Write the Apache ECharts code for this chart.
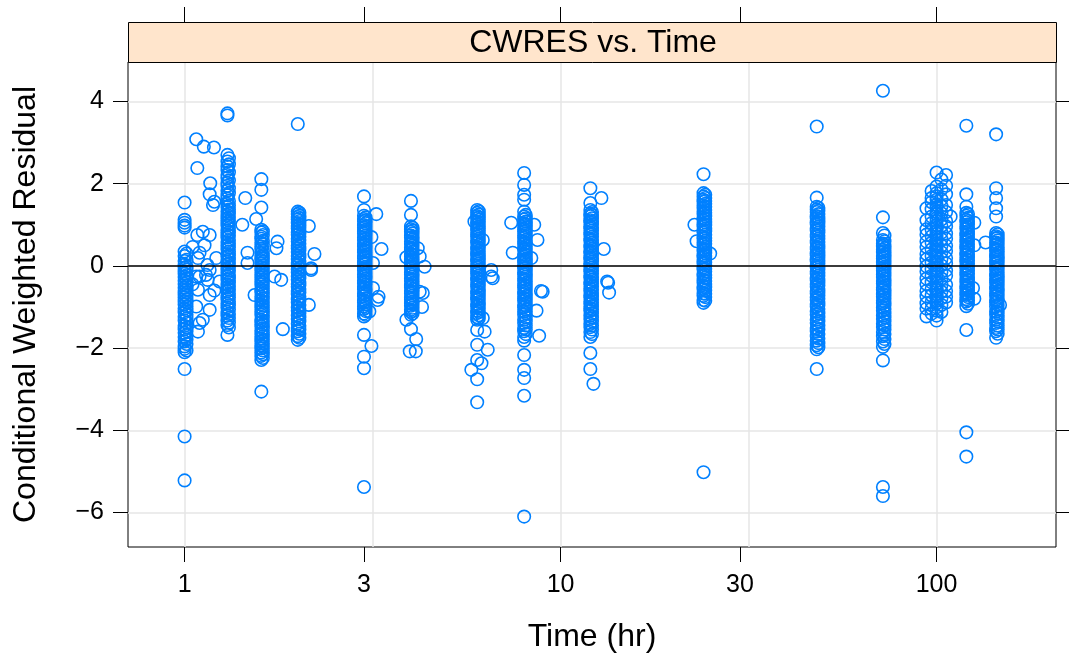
<!DOCTYPE html>
<html>
<head>
<meta charset="utf-8">
<script src="https://cdn.jsdelivr.net/npm/echarts@6/dist/echarts.min.js"></script>
<style>
html,body{margin:0;padding:0;background:#fff;}
#chart{width:1069px;height:661px;}
</style>
</head>
<body>
<div id="chart"></div>
<script>
// ---- axis / tick data ----
const xTickLabels = [1, 3, 10, 30, 100];
const xGridTimes = [1, 3.1623, 10, 31.623, 100];
const yTickValues = [-6, -4, -2, 0, 2, 4];
const xRange = [0.7071, 207.8];
const yRange = [-6.84, 4.96];

// ---- CWRES per nominal time (hr) ----
const cw_1h = [1.54, 1.12, 1.05, 0.98, 0.93, 0.35, 0.24, 0.12, 0.03, -0.04, -0.13, -0.19, -0.27, -0.36, -0.44, -0.53, -0.61, -0.69, -0.77, -0.86, -0.94, -1.04, -1.13, -1.24, -1.33, -1.46, -1.54, -1.63, -1.73, -1.84, -1.96, -2.02, -2.1, -2.51, -4.15, -5.22];
const cw_1h_b = [0.3, 0.15, -0.02, -0.09, -0.23, -0.31, -0.4, -0.49, -0.57, -0.65, -0.73, -0.82, -0.9, -0.99, -1.08, -1.19, -1.28, -1.39, -1.5, -1.59, -1.68, -1.79, -1.9, -2.06];
const cw_1_3h = [3.71, 3.66, 2.7, 2.54, 2.42, 2.33, 2.21, 2.14, 2.02, 1.95, 1.83, 1.72, 1.64, 1.51, 1.43, 1.32, 1.24, 1.15, 1.06, 0.98, 0.86, 0.77, 0.69, 0.58, 0.49, 0.41, 0.29, 0.22, 0.11, 0.03, -0.08, -0.17, -0.26, -0.34, -0.45, -0.53, -0.62, -0.73, -0.81, -0.92, -1.01, -1.12, -1.21, -1.33, -1.44, -1.68];
const cw_1_3h_b = [2.62, 2.47, 2.28, 2.08, 1.89, 1.77, 1.58, 1.47, 1.37, 1.28, 1.19, 1.1, 1.02, 0.92, 0.82, 0.73, 0.63, 0.54, 0.45, 0.35, 0.26, 0.16, 0.07, -0.03, -0.12, -0.22, -0.3, -0.4, -0.49, -0.58, -0.68, -0.77, -0.87, -0.96, -1.06, -1.17, -1.27, -1.38, -1.5];
const cw_1_6h = [2.11, 1.85, 1.42, 0.88, 0.81, 0.71, 0.66, 0.56, 0.47, 0.41, 0.31, 0.21, 0.14, 0.06, -0.03, -0.11, -0.21, -0.29, -0.38, -0.46, -0.56, -0.64, -0.75, -0.84, -0.93, -1.01, -1.11, -1.19, -1.31, -1.38, -1.47, -1.58, -1.66, -1.76, -1.84, -1.94, -2.01, -2.11, -2.19, -2.29, -3.06];
const cw_1_6h_b = [0.84, 0.75, 0.61, 0.52, 0.36, 0.26, 0.18, 0.1, 0.01, -0.07, -0.16, -0.25, -0.34, -0.42, -0.51, -0.6, -0.69, -0.79, -0.88, -0.97, -1.06, -1.15, -1.25, -1.34, -1.43, -1.52, -1.62, -1.71, -1.8, -1.89, -1.97, -2.06, -2.15, -2.24];
const cw_2h = [3.45, 1.32, 1.26, 1.19, 1.13, 1.04, 0.97, 0.91, 0.81, 0.76, 0.66, 0.59, 0.49, 0.42, 0.34, 0.24, 0.17, 0.07, 0.01, -0.09, -0.16, -0.26, -0.34, -0.44, -0.51, -0.61, -0.69, -0.81, -0.89, -1.01, -1.09, -1.21, -1.29, -1.41, -1.51, -1.59, -1.71, -1.8];
const cw_2h_b = [1.29, 1.22, 1.16, 1.09, 1.01, 0.94, 0.86, 0.79, 0.71, 0.63, 0.54, 0.46, 0.38, 0.29, 0.21, 0.12, 0.04, -0.05, -0.13, -0.21, -0.3, -0.39, -0.47, -0.56, -0.65, -0.75, -0.85, -0.95, -1.05, -1.15, -1.25, -1.35, -1.46, -1.55, -1.65, -1.75];
const cw_3h = [1.69, 1.36, 1.22, 1.14, 1.09, 0.99, 0.93, 0.84, 0.79, 0.69, 0.63, 0.54, 0.48, 0.39, 0.33, 0.24, 0.19, 0.09, 0.04, -0.06, -0.11, -0.21, -0.27, -0.36, -0.42, -0.51, -0.57, -0.67, -0.74, -0.84, -0.89, -0.99, -1.05, -1.16, -1.23, -1.68, -2.21, -2.49, -5.38];
const cw_3h_b = [1.18, 1.11, 1.04, 0.96, 0.88, 0.81, 0.74, 0.66, 0.58, 0.51, 0.43, 0.36, 0.28, 0.21, 0.14, 0.06, -0.02, -0.09, -0.17, -0.24, -0.31, -0.39, -0.46, -0.54, -0.62, -0.7, -0.79, -0.87, -0.94, -1.02, -1.1, -1.19];
const cw_4h = [1.58, 1.24, 0.96, 0.89, 0.83, 0.74, 0.69, 0.59, 0.53, 0.44, 0.39, 0.29, 0.23, 0.14, 0.09, -0.01, -0.06, -0.16, -0.21, -0.31, -0.37, -0.47, -0.52, -0.61, -0.67, -0.77, -0.82, -0.91, -0.97, -1.07, -1.12, -1.19, -1.54];
const cw_4h_b = [0.93, 0.86, 0.79, 0.71, 0.64, 0.56, 0.49, 0.41, 0.34, 0.26, 0.19, 0.11, 0.04, -0.04, -0.11, -0.19, -0.26, -0.34, -0.42, -0.49, -0.57, -0.64, -0.72, -0.8, -0.87, -0.94, -1.02, -1.1, -1.16];
const cw_6h = [1.36, 1.29, 1.21, 1.16, 1.07, 1.01, 0.92, 0.87, 0.77, 0.71, 0.61, 0.56, 0.46, 0.41, 0.31, 0.26, 0.17, 0.11, 0.01, -0.04, -0.13, -0.19, -0.29, -0.35, -0.45, -0.51, -0.61, -0.67, -0.77, -0.82, -0.93, -0.99, -1.09, -1.15, -1.25, -1.31, -1.56, -1.92, -2.29, -2.76, -3.32];
const cw_6h_b = [1.33, 1.25, 1.18, 1.12, 1.04, 0.96, 0.9, 0.82, 0.74, 0.66, 0.59, 0.51, 0.44, 0.36, 0.29, 0.21, 0.14, 0.06, -0.02, -0.09, -0.16, -0.24, -0.32, -0.4, -0.48, -0.56, -0.64, -0.72, -0.8, -0.88, -0.96, -1.04, -1.12, -1.2, -1.28];
const cw_8h = [2.26, 1.97, 1.73, 1.61, 1.32, 1.2, 1.13, 1.04, 0.99, 0.89, 0.83, 0.74, 0.68, 0.59, 0.53, 0.44, 0.39, 0.29, 0.23, 0.14, 0.09, -0.01, -0.06, -0.16, -0.21, -0.31, -0.37, -0.47, -0.53, -0.63, -0.69, -0.79, -0.85, -0.95, -1.01, -1.11, -1.19, -1.31, -1.39, -1.51, -1.59, -1.73, -1.82, -2.17, -2.53, -2.73, -3.16, -6.1];
const cw_8h_b = [1.24, 1.16, 1.08, 1.01, 0.94, 0.86, 0.79, 0.71, 0.63, 0.56, 0.48, 0.41, 0.34, 0.26, 0.18, 0.11, 0.04, -0.04, -0.11, -0.19, -0.26, -0.34, -0.42, -0.5, -0.58, -0.66, -0.74, -0.82, -0.9, -0.98, -1.06, -1.15, -1.25, -1.35, -1.45, -1.55, -1.66];
const cw_12h = [1.89, 1.53, 1.36, 1.27, 1.21, 1.11, 1.06, 0.96, 0.91, 0.81, 0.76, 0.66, 0.61, 0.51, 0.46, 0.36, 0.31, 0.21, 0.16, 0.06, 0.01, -0.09, -0.14, -0.24, -0.29, -0.39, -0.45, -0.55, -0.61, -0.71, -0.77, -0.87, -0.93, -1.03, -1.09, -1.21, -1.29, -1.41, -1.49, -1.61, -1.73, -2.12, -2.51];
const cw_12h_b = [1.31, 1.24, 1.16, 1.08, 1.01, 0.93, 0.86, 0.78, 0.71, 0.63, 0.56, 0.48, 0.41, 0.33, 0.26, 0.18, 0.11, 0.03, -0.04, -0.12, -0.19, -0.27, -0.34, -0.42, -0.5, -0.58, -0.66, -0.74, -0.82, -0.9, -0.98, -1.06, -1.15, -1.25, -1.35, -1.45, -1.55, -1.66];
const cw_24h = [2.23, 1.77, 1.69, 1.61, 1.56, 1.47, 1.41, 1.32, 1.26, 1.17, 1.11, 1.01, 0.96, 0.86, 0.81, 0.71, 0.66, 0.57, 0.51, 0.41, 0.36, 0.26, 0.21, 0.11, 0.06, -0.04, -0.09, -0.19, -0.25, -0.35, -0.41, -0.51, -0.57, -0.67, -0.73, -0.83, -0.9, -5.02];
const cw_24h_b = [1.73, 1.65, 1.58, 1.51, 1.44, 1.36, 1.29, 1.21, 1.14, 1.06, 0.99, 0.91, 0.84, 0.76, 0.68, 0.61, 0.54, 0.46, 0.38, 0.31, 0.24, 0.16, 0.08, 0.01, -0.07, -0.14, -0.22, -0.29, -0.37, -0.44, -0.52, -0.6, -0.68, -0.76, -0.85];
const cw_48h = [3.39, 1.66, 1.44, 1.37, 1.31, 1.21, 1.16, 1.06, 1.01, 0.91, 0.86, 0.76, 0.71, 0.61, 0.56, 0.46, 0.41, 0.31, 0.26, 0.16, 0.11, 0.01, -0.04, -0.14, -0.19, -0.29, -0.35, -0.45, -0.51, -0.61, -0.67, -0.77, -0.83, -0.93, -0.99, -1.11, -1.19, -1.31, -1.39, -1.51, -1.59, -1.71, -1.82, -1.93, -2.03, -2.51];
const cw_48h_b = [1.41, 1.34, 1.26, 1.19, 1.11, 1.04, 0.96, 0.88, 0.81, 0.73, 0.66, 0.58, 0.51, 0.43, 0.36, 0.28, 0.21, 0.13, 0.06, -0.02, -0.09, -0.17, -0.24, -0.32, -0.4, -0.48, -0.56, -0.64, -0.72, -0.8, -0.88, -0.96, -1.05, -1.15, -1.25, -1.35, -1.45, -1.55, -1.66, -1.77, -1.88, -1.98];
const cw_72h = [4.26, 1.18, 0.8, 0.63, 0.54, 0.48, 0.39, 0.33, 0.24, 0.18, 0.09, 0.03, -0.06, -0.12, -0.21, -0.27, -0.37, -0.43, -0.53, -0.59, -0.69, -0.75, -0.85, -0.91, -1.01, -1.09, -1.21, -1.29, -1.41, -1.49, -1.61, -1.71, -1.84, -1.97, -2.3, -5.38, -5.6];
const cw_72h_b = [0.74, 0.6, 0.51, 0.43, 0.36, 0.28, 0.21, 0.13, 0.06, -0.02, -0.09, -0.17, -0.24, -0.32, -0.4, -0.48, -0.56, -0.64, -0.72, -0.8, -0.88, -0.96, -1.05, -1.15, -1.25, -1.35, -1.45, -1.55, -1.66, -1.78, -1.9];
const cw_94h = [1.4, 1.11, 0.89, 0.76, 0.59, 0.46, 0.29, 0.16, -0.01, -0.14, -0.31, -0.44, -0.61, -0.74, -0.91, -1.04, -1.23];
const cw_97h = [1.82, 1.65, 1.55, 1.38, 1.2, 1.04, 0.88, 0.72, 0.56, 0.4, 0.24, 0.08, -0.08, -0.24, -0.4, -0.56, -0.72, -0.88, -1.04, -1.16];
const cw_100h = [2.27, 1.93, 1.77, 1.69, 1.61, 1.49, 1.43, 1.32, 1.26, 1.16, 1.09, 0.99, 0.93, 0.84, 0.78, 0.69, 0.63, 0.54, 0.48, 0.39, 0.33, 0.24, 0.18, 0.09, 0.03, -0.06, -0.12, -0.21, -0.27, -0.37, -0.43, -0.53, -0.59, -0.69, -0.75, -0.85, -0.91, -1.01, -1.09, -1.21, -1.33];
const cw_103h = [2.1, 1.86, 1.62, 1.45, 1.28, 1.13, 0.97, 0.81, 0.65, 0.49, 0.33, 0.17, 0.01, -0.15, -0.31, -0.47, -0.63, -0.79, -0.95, -1.12];
const cw_106h = [2.21, 1.95, 1.74, 1.48, 1.31, 1.09, 0.96, 0.79, 0.66, 0.49, 0.36, 0.19, 0.06, -0.11, -0.24, -0.46, -0.61, -0.75, -0.89];
const cw_120h = [3.41, 1.74, 1.44, 1.29, 1.22, 1.12, 1.06, 0.96, 0.9, 0.8, 0.74, 0.64, 0.58, 0.48, 0.42, 0.32, 0.26, 0.16, 0.1, 0.0, -0.06, -0.16, -0.22, -0.32, -0.39, -0.49, -0.55, -0.65, -0.71, -0.81, -0.87, -0.98, -1.56, -4.05, -4.64];
const cw_120h_b = [1.26, 1.17, 1.09, 1.01, 0.93, 0.85, 0.77, 0.69, 0.61, 0.53, 0.45, 0.37, 0.29, 0.21, 0.13, 0.05, -0.03, -0.11, -0.19, -0.27, -0.35, -0.44, -0.52, -0.6, -0.68, -0.76, -0.84, -0.92];
const cw_144h = [3.2, 1.89, 1.65, 1.4, 1.2, 0.8, 0.72, 0.67, 0.57, 0.51, 0.41, 0.36, 0.26, 0.21, 0.11, 0.06, -0.04, -0.09, -0.19, -0.25, -0.35, -0.41, -0.51, -0.57, -0.67, -0.73, -0.83, -0.89, -0.99, -1.11, -1.19, -1.31, -1.39, -1.51, -1.59, -1.75];
const cw_144h_b = [0.77, 0.69, 0.62, 0.54, 0.46, 0.39, 0.31, 0.23, 0.16, 0.08, 0.0, -0.07, -0.15, -0.22, -0.3, -0.38, -0.46, -0.54, -0.62, -0.7, -0.78, -0.86, -0.95, -1.05, -1.15, -1.25, -1.35, -1.45, -1.55, -1.65];

// [time (hr), CWRES list]
const nominalGroups = [
  [1.0, cw_1h], [1.012, cw_1h_b], [1.3, cw_1_3h], [1.312, cw_1_3h_b], [1.6, cw_1_6h], [1.615, cw_1_6h_b],
  [2.0, cw_2h], [2.02, cw_2h_b], [3.0, cw_3h], [3.03, cw_3h_b], [4.0, cw_4h], [4.04, cw_4h_b],
  [6.0, cw_6h], [6.06, cw_6h_b], [8.0, cw_8h], [8.08, cw_8h_b], [12, cw_12h], [12.12, cw_12h_b],
  [24, cw_24h], [24.25, cw_24h_b], [48, cw_48h], [48.5, cw_48h_b], [72, cw_72h], [72.7, cw_72h_b],
  [94, cw_94h], [97, cw_97h], [100, cw_100h], [103, cw_103h], [106, cw_106h],
  [120, cw_120h], [121.2, cw_120h_b], [144, cw_144h], [145.4, cw_144h_b]
];

// off-nominal observations: [time (hr), CWRES]
const offNominal = [
  [1.074, 3.08], [1.125, 2.9], [1.197, 2.88], [1.081, 2.38], [1.17, 2.01], [1.166, 1.74], [1.2, 1.56], [1.19, 1.48],
  [1.081, 0.75], [1.118, 0.83], [1.166, 0.75], [1.05, 0.46], [1.13, 0.5], [1.096, 0.32], [1.085, 0.19], [1.214, 0.19],
  [1.15, 0.02], [1.166, -0.1], [1.096, -0.26], [1.074, -0.26], [1.14, -0.22], [1.151, -0.34], [1.239, -0.38],
  [1.05, -0.45], [1.085, -0.58], [1.2, -0.6], [1.166, -0.71], [1.074, -0.99], [1.166, -1.07], [1.118, -1.31],
  [1.096, -1.39], [1.085, -1.6],
  [1.55, 1.14], [1.45, 1.65], [1.424, 1.0], [1.47, 0.32], [1.47, 0.07], [1.767, 0.59], [1.755, 0.43],
  [1.735, -0.26], [1.807, -0.34], [1.535, -0.71], [1.825, -1.54],
  [2.14, 0.97], [2.215, 0.29], [2.17, -0.06], [2.14, -0.95], [2.17, -0.1],
  [3.235, 1.26], [3.34, 0.41], [3.14, 0.7], [3.17, 0.07], [3.17, -0.54], [3.28, -0.75], [3.26, -0.83], [3.1, -1.11], [3.14, -1.95],
  [3.89, 0.21], [3.89, -1.31], [4.35, -0.02], [4.22, 0.23], [4.22, -0.63], [4.17, 0.43], [4.3, -0.66], [4.28, -1.0],
  [4.13, -1.78], [3.97, -2.08], [4.12, -2.08],
  [6.21, 0.63], [6.21, -1.27], [6.28, -1.6], [6.54, -0.1], [6.6, -0.3], [6.54, -0.26], [6.4, -2.04], [6.16, -2.37],
  [5.79, -2.53], [5.9, 1.08],
  [7.39, 1.05], [8.51, 1.0], [8.68, 0.63], [7.46, 0.32], [8.36, 0.19], [8.96, -0.63], [8.87, -0.61], [8.63, -1.09], [8.77, -1.7],
  [12.84, 1.65], [13.03, 0.41], [13.3, -0.38], [13.46, -0.65], [13.38, -0.41], [12.23, -2.87],
  [22.7, 1.0], [23.0, 0.6], [25.0, 0.3],
  [109, 1.2],
  [126, 1.05], [125, -0.54], [126, 0.5], [126, -0.8],
  [135, 0.57], [147.5, -0.95]
];

// ---- build point list ----
const points = [];
nominalGroups.forEach(([t, vals]) => vals.forEach(v => points.push([t, v])));
offNominal.forEach(p => points.push(p));

const FONT = "'Liberation Sans', Arial, Helvetica, sans-serif";
const chart = echarts.init(document.getElementById('chart'), null, {renderer: 'canvas'});

const GRID = {left: 128, top: 62, right: 13, bottom: 114};
const noLine = {show: false, onZero: false};

chart.setOption({
  animation: false,
  backgroundColor: '#ffffff',
  grid: {left: GRID.left, top: GRID.top, right: GRID.right, bottom: GRID.bottom, show: true, borderColor: '#000', borderWidth: 1, backgroundColor: 'transparent'},
  xAxis: [
    {
      type: 'log', logBase: 10, min: xRange[0], max: xRange[1], position: 'bottom',
      axisLine: noLine,
      axisTick: {show: true, length: 15, customValues: xTickLabels, lineStyle: {color: '#000', width: 1}},
      axisLabel: {customValues: xTickLabels, formatter: v => String(Math.round(v)), margin: 26, fontSize: 25, color: '#000', fontFamily: FONT},
      splitLine: {show: false},
      name: 'Time (hr)', nameLocation: 'middle', nameGap: 74,
      nameTextStyle: {fontSize: 32, color: '#000', fontFamily: FONT}
    },
    {
      type: 'log', logBase: 10, min: xRange[0], max: xRange[1], position: 'top', offset: 40,
      axisLine: noLine,
      axisTick: {show: true, length: 15, customValues: xTickLabels, lineStyle: {color: '#000', width: 1}},
      axisLabel: {show: false},
      splitLine: {show: false}
    },
    {
      type: 'log', logBase: 10, min: xRange[0], max: xRange[1], position: 'bottom',
      axisLine: noLine,
      axisTick: {show: false, customValues: xGridTimes},
      axisLabel: {show: false},
      splitLine: {show: true, lineStyle: {color: '#e6e6e6', width: 1.5}}
    }
  ],
  yAxis: [
    {
      type: 'value', min: yRange[0], max: yRange[1], position: 'left',
      axisLine: noLine,
      axisTick: {show: true, length: 15, customValues: yTickValues, lineStyle: {color: '#000', width: 1}},
      axisLabel: {customValues: yTickValues, formatter: v => (v < 0 ? '\u2212' + Math.abs(v) : String(v)), margin: 24, fontSize: 25, color: '#000', fontFamily: FONT},
      splitLine: {show: true, lineStyle: {color: '#e6e6e6', width: 1.5}},
      name: 'Conditional Weighted Residual', nameLocation: 'middle', nameGap: 86,
      nameTextStyle: {fontSize: 32, color: '#000', fontFamily: FONT}
    },
    {
      type: 'value', min: yRange[0], max: yRange[1], position: 'right',
      axisLine: noLine,
      axisTick: {show: true, length: 15, customValues: yTickValues, lineStyle: {color: '#000', width: 1}},
      axisLabel: {show: false},
      splitLine: {show: false}
    }
  ],
  graphic: [
    {
      type: 'rect', left: GRID.left, top: 22, z: 10,
      shape: {width: 928, height: 40},
      style: {fill: '#ffe5cc', stroke: '#000', lineWidth: 1}
    },
    {
      type: 'text', x: 593, y: 43, z: 11,
      style: {text: 'CWRES vs. Time', fontSize: 32, fill: '#000', fontFamily: FONT, textAlign: 'center', textVerticalAlign: 'middle', verticalAlign: 'middle', align: 'center'}
    }
  ],
  series: [
    {
      type: 'scatter', xAxisIndex: 0, yAxisIndex: 0,
      data: points,
      symbol: 'circle', symbolSize: 12.5,
      itemStyle: {color: 'rgba(0,0,0,0)', borderColor: '#0080ff', borderWidth: 1.6, opacity: 1},
      emphasis: {disabled: true},
      markLine: {
        silent: true, symbol: 'none', animation: false,
        label: {show: false},
        lineStyle: {color: '#000', type: 'solid', width: 1.5},
        data: [{yAxis: 0}]
      },
      z: 3
    }
  ]
});
</script>
</body>
</html>
